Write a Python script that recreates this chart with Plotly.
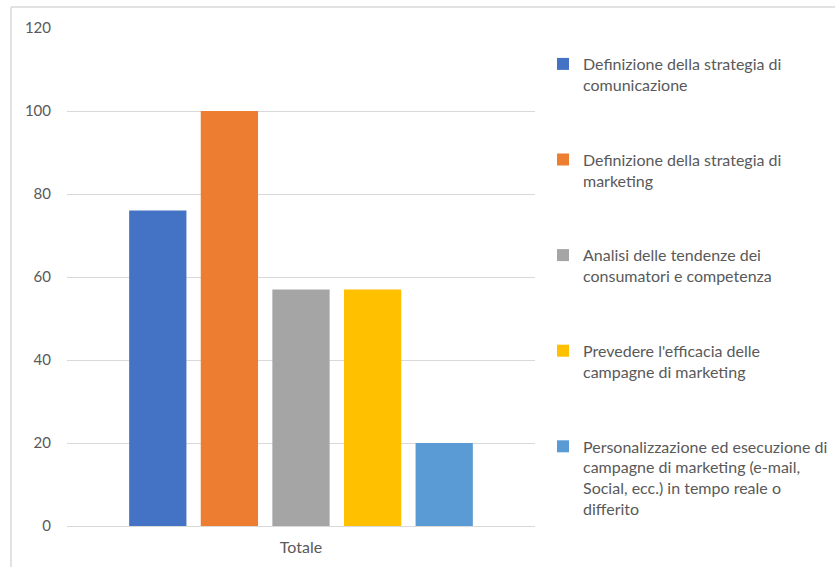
import plotly.graph_objects as go

categories = ["Totale"]
series_names = [
    "Definizione della strategia di<br>comunicazione",
    "Definizione della strategia di<br>marketing",
    "Analisi delle tendenze dei<br>consumatori e competenza",
    "Prevedere l'efficacia delle<br>campagne di marketing",
    "Personalizzazione ed esecuzione di<br>campagne di marketing (e-mail,<br>Social, ecc.) in tempo reale o<br>differito",
]
series_values = [76, 100, 57, 57, 20]
series_colors = ["#4472C4", "#ED7D31", "#A5A5A5", "#FFC000", "#5B9BD5"]
y_ticks = [0, 20, 40, 60, 80, 100, 120]

W, H = 835, 567
L, R, T, B = 67, 535, 28, 526

fig = go.Figure()
for i, (name, val, col) in enumerate(zip(series_names, series_values, series_colors)):
    fig.add_trace(go.Bar(
        x=categories, y=[val], name=name, marker=dict(color=col, line=dict(width=0)),
        legendgroup=f"g{i}",
    ))

font_color = "#595959"
fig.update_layout(
    width=W, height=H,
    margin=dict(l=L, r=W - R, t=T, b=H - B, pad=0, autoexpand=False),
    paper_bgcolor="white", plot_bgcolor="white",
    barmode="group", bargap=0.235, bargroupgap=0.2,
    font=dict(family="Lato, Carlito, sans-serif", size=16, color=font_color),
    showlegend=True,
    legend=dict(
        x=(543 - L) / (R - L), xanchor="left",
        y=(526 - 47) / (B - T), yanchor="top",
        valign="top", tracegroupgap=51,
        bgcolor="rgba(0,0,0,0)",
        font=dict(size=16, color=font_color),
        itemwidth=30,
    ),
    xaxis=dict(showgrid=False, showline=False, ticks="", ticklabelstandoff=10,
               tickfont=dict(size=16, color=font_color)),
    yaxis=dict(range=[0, 120], tickvals=y_ticks, showgrid=True, gridcolor="#D9D9D9", gridwidth=1,
               zeroline=True, zerolinecolor="#D9D9D9", zerolinewidth=1, showline=False,
               ticks="", ticklabelstandoff=15, tickfont=dict(size=15, color=font_color)),
)

def px(xp):
    return (xp - L) / (R - L)

def py(yp):
    return (B - yp) / (B - T)

fig.add_shape(type="line", xref="paper", yref="paper", x0=px(11), x1=px(835), y0=py(7), y1=py(7),
              line=dict(color="#D9D9D9", width=1.5))
fig.add_shape(type="line", xref="paper", yref="paper", x0=px(11), x1=px(11), y0=py(7), y1=py(567),
              line=dict(color="#D9D9D9", width=1.5))

fig.write_html("out.html", config={"displayModeBar": False},
               post_script="document.body.style.margin='0';")
